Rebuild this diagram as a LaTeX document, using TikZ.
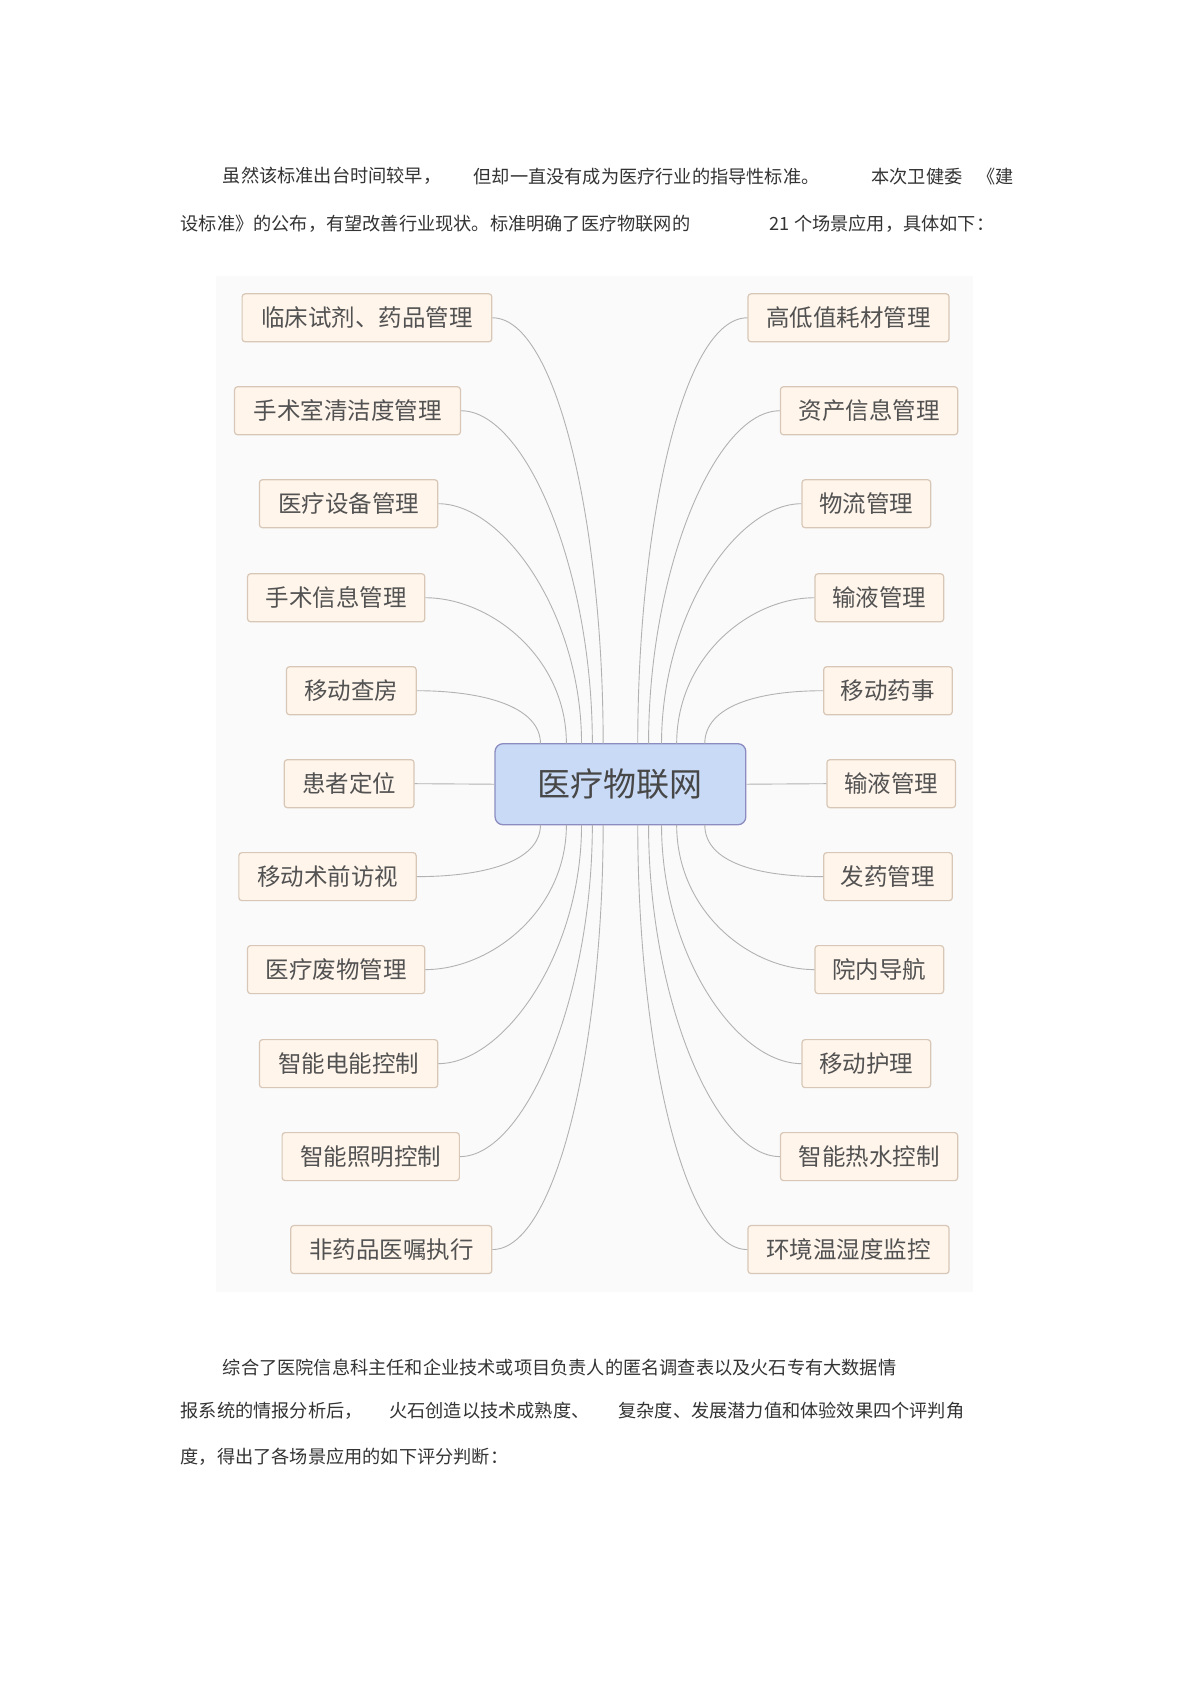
\documentclass[tikz,border=0pt]{standalone}
\usepackage{fontspec}
\setmainfont{Noto Sans CJK SC}
\begin{document}
\begin{tikzpicture}[x=1.081pt,y=-1.081pt,
  leaf/.style={draw=black!25!brown!35,fill=orange!8,rounded corners=3pt,line width=1.2pt,minimum height=48,inner xsep=0pt,text=black!68,font=\fontsize{23.5}{26}\selectfont},
  body/.style={anchor=west,inner sep=0pt,text=black!80,font=\fontsize{18.2}{20}\selectfont},
  link/.style={draw=black!30,line width=0.9pt}]
\useasboundingbox (0,0) rectangle (1100,1557);
\fill[black!2] (200,255) rectangle (900,1195);
\node[body] (t1) at (206,163) {虽然该标准出台时间较早，};
\node[body] (t2) at (438,163) {但却一直没有成为医疗行业的指导性标准。};
\node[body] (t3) at (806,163) {本次卫健委};
\node[body] (t4) at (904,163) {《建};
\node[body] (t5) at (167,207) {设标准》的公布，有望改善行业现状。标准明确了医疗物联网的};
\node[body] (t6) at (712,207) {21 个场景应用，具体如下：};
\node[body] (b1) at (206,1265) {综合了医院信息科主任和企业技术或项目负责人的匿名调查表以及火石专有大数据情};
\node[body] (b2) at (167,1305) {报系统的情报分析后，};
\node[body] (b3) at (360,1305) {火石创造以技术成熟度、};
\node[body] (b4) at (572,1305) {复杂度、发展潜力值和体验效果四个评判角};
\node[body] (b5) at (167,1348) {度，得出了各场景应用的如下评分判断：};
\node[draw=blue!45!black!45,fill={rgb,255:red,200;green,218;blue,246},line width=1.3pt,rounded corners=8pt,minimum width=232*1.081pt,minimum height=75*1.081pt,font=\fontsize{33}{36}\selectfont,text=black!72] (c) at (574,725.5) {医疗物联网};
\foreach \n/\xa/\xb/\y/\t in {L1/224/455/294/临床试剂、药品管理,L2/217/426/380/手术室清洁度管理,L3/240/405/466/医疗设备管理,L4/229/393/553/手术信息管理,L5/265/385/639/移动查房,L6/263/383/725/患者定位,L7/221/385/811/移动术前访视,L8/229/393/897/医疗废物管理,L9/240/405/984/智能电能控制,L10/261/425/1070/智能照明控制,L11/269/455/1156/非药品医嘱执行,R1/692/878/294/高低值耗材管理,R2/722/886/380/资产信息管理,R3/742/861/466/物流管理,R4/754/873/553/输液管理,R5/762/881/639/移动药事,R6/765/884/725/输液管理,R7/762/881/811/发药管理,R8/754/873/897/院内导航,R9/742/861/984/移动护理,R10/722/886/1070/智能热水控制,R11/692/878/1156/环境温湿度监控}
  \node[leaf,minimum width={(\xb-\xa)*1.081pt}] (\n) at ({(\xa+\xb)/2},\y) {\t};
\foreach \n/\ex/\b in {L1/558/200,L2/548/160,L3/538/120,L4/524/80,L5/500/35}
  \draw[link] (\n.east) .. controls +(60,0) and +(0,-\b) .. (\ex,688);
\foreach \n/\ex/\b in {R1/590/200,R2/600/160,R3/612/120,R4/626/80,R5/652/35}
  \draw[link] (\n.west) .. controls +(-60,0) and +(0,-\b) .. (\ex,688);
\foreach \n/\ex/\b in {L11/558/200,L10/548/160,L9/538/120,L8/524/80,L7/500/35}
  \draw[link] (\n.east) .. controls +(60,0) and +(0,\b) .. (\ex,763);
\foreach \n/\ex/\b in {R11/590/200,R10/600/160,R9/612/120,R8/626/80,R7/652/35}
  \draw[link] (\n.west) .. controls +(-60,0) and +(0,\b) .. (\ex,763);
\draw[link] (L6.east) -- (c.west);
\draw[link] (R6.west) -- (c.east);
\end{tikzpicture}
\end{document}
